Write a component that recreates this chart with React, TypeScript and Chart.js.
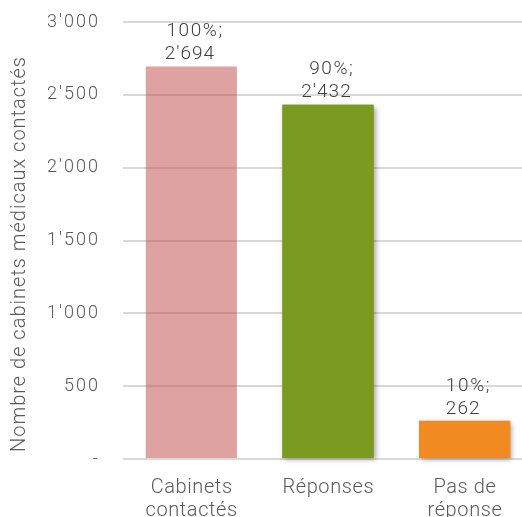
import React, { useEffect, useRef } from "react";
import { Chart, registerables } from "chart.js";

Chart.register(...registerables);

const categories: string[][] = [["Cabinets", "contactés"], ["Réponses"], ["Pas de", "réponse"]];
const values: number[] = [2694, 2432, 262];
const percents: string[] = ["100%;", "90%;", "10%;"];
const barColors: string[] = ["rgba(192,80,77,0.53)", "#7A9A20", "#F28A22"];
const shadowed: boolean[] = [false, true, true];
const yTitle = "Nombre de cabinets médicaux contactés";

const FONT = "Roboto";
const TEXT = "#595959";

function fmt(v: number): string {
  if (v === 0) return "-";
  const s = Math.round(v).toString();
  return s.replace(/\B(?=(\d{3})+(?!\d))/g, "'");
}

function drawText(
  ctx: CanvasRenderingContext2D,
  text: string,
  x: number,
  y: number,
  size: number,
  spacing: number,
  align: "left" | "center" | "right",
  color: string
) {
  ctx.save();
  (ctx as any).letterSpacing = spacing + "px";
  ctx.font = `300 ${size}px ${FONT}`;
  ctx.fillStyle = color;
  ctx.textAlign = align;
  ctx.textBaseline = "middle";
  const dx = align === "right" ? spacing : align === "center" ? spacing / 2 : 0;
  ctx.fillText(text, x + dx, y);
  ctx.restore();
}

const shadowPlugin = {
  id: "barShadow",
  beforeDatasetsDraw(chart: any) {
    const ctx = chart.ctx;
    const meta = chart.getDatasetMeta(0);
    meta.data.forEach((el: any, i: number) => {
      if (!shadowed[i]) return;
      const { x, y, width, base } = el.getProps(["x", "y", "width", "base"], true);
      ctx.save();
      ctx.shadowColor = "rgba(0,0,0,0.35)";
      ctx.shadowBlur = 5;
      ctx.shadowOffsetX = 2;
      ctx.shadowOffsetY = 2;
      ctx.fillStyle = barColors[i];
      ctx.fillRect(x - width / 2, y, width, base - y);
      ctx.restore();
    });
  },
};

const textPlugin = {
  id: "texts",
  afterDraw(chart: any) {
    const ctx = chart.ctx;
    const ys = chart.scales.y;
    const xs = chart.scales.x;
    ys.ticks.forEach((t: any) => {
      const py = ys.getPixelForValue(t.value);
      drawText(ctx, fmt(t.value), ys.right - 25, py, 18, 2, "right", TEXT);
    });
    categories.forEach((lines, i) => {
      const px = xs.getPixelForValue(i);
      lines.forEach((ln, j) => {
        drawText(ctx, ln, px, xs.top + 29 + j * 23, 20, 0.6, "center", TEXT);
      });
    });
    ctx.save();
    ctx.translate(20, (chart.chartArea.top + chart.chartArea.bottom) / 2 + 14);
    ctx.rotate(-Math.PI / 2);
    drawText(ctx, yTitle, 0, 0, 20, 1, "center", TEXT);
    ctx.restore();
    const meta = chart.getDatasetMeta(0);
    meta.data.forEach((el: any, i: number) => {
      const { x, y } = el.getProps(["x", "y"], true);
      drawText(ctx, percents[i], x + 3, y - 35, 19, 1.6, "center", "#404040");
      drawText(ctx, fmt(values[i]), x - 2, y - 12, 19, 1, "center", "#404040");
    });
  },
};

export default function App() {
  const ref = useRef<HTMLCanvasElement>(null);
  useEffect(() => {
    if (!ref.current) return;
    const chart = new Chart(ref.current, {
      type: "bar",
      data: {
        labels: categories.map((c) => c.join(" ")),
        datasets: [
          {
            data: values,
            backgroundColor: barColors,
            borderWidth: 0,
            barPercentage: 0.667,
            categoryPercentage: 1,
          },
        ],
      },
      options: {
        animation: false,
        responsive: false,
        maintainAspectRatio: false,
        layout: { padding: { top: 22, left: 0, right: 0, bottom: 0 } },
        plugins: {
          legend: { display: false },
          tooltip: { enabled: false },
        },
        scales: {
          x: {
            grid: { display: false, drawTicks: false },
            border: { display: false },
            ticks: { display: false },
            afterFit(scale: any) {
              scale.height = 58;
              scale.paddingLeft = 0;
              scale.paddingRight = 0;
            },
          },
          y: {
            min: 0,
            max: 3000,
            ticks: { display: false, stepSize: 500 },
            grid: { color: "#D9D9D9", lineWidth: 2, drawTicks: false },
            border: { display: false },
            afterFit(scale: any) {
              scale.width = 123;
              scale.paddingTop = 0;
              scale.paddingBottom = 0;
            },
          },
        },
      },
      plugins: [shadowPlugin, textPlugin],
    });
    return () => chart.destroy();
  }, []);
  return (
    <div style={{ position: "fixed", left: 0, top: 0, width: 522, height: 517, overflow: "hidden", background: "#fff" }}>
      <canvas ref={ref} width={533} height={517} style={{ display: "block" }} />
    </div>
  );
}
